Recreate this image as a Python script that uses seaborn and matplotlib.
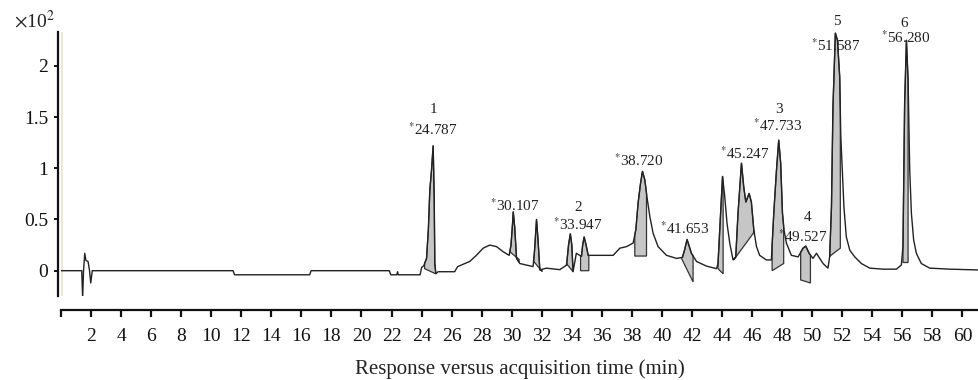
import numpy as np
import pandas as pd
import matplotlib.pyplot as plt
import seaborn as sns

plt.switch_backend('Agg')
sns.set_theme(style="white")
plt.rcParams['font.family'] = ['Liberation Serif', 'DejaVu Serif']
plt.rcParams['mathtext.fontset'] = 'stix'

# Traza del cromatograma (min, respuesta x10^2)
tiempo = [0, 1.38, 1.44, 1.5, 1.58, 1.66, 1.8, 1.9, 1.98, 2.08, 11.45, 11.55, 16.55, 16.65,
          21.85, 21.95, 22.35, 22.4, 22.45, 23.9, 24.0, 24.15, 24.33, 24.45, 24.55, 24.66,
          24.77, 24.84, 24.88, 24.95, 25.1, 26.2, 26.4, 27.2, 27.65, 28.1, 28.54, 28.99,
          29.43, 29.83, 29.95, 30.05, 30.1, 30.2, 30.32, 30.54, 30.98, 31.42, 31.52, 31.65,
          31.75, 31.87, 32.3, 33.2, 33.65, 33.78, 33.9, 34.0, 34.08, 34.3, 34.64, 34.72,
          34.82, 34.95, 35.09, 35.86, 36.75, 37.2, 37.64, 38.08, 38.26, 38.41, 38.57, 38.7,
          38.86, 39.0, 39.19, 39.41, 39.74, 40.3, 40.97, 41.36, 41.5, 41.67, 41.96, 42.3,
          42.96, 43.63, 43.73, 43.9, 44.03, 44.18, 44.33, 44.51, 44.73, 44.91, 45.06, 45.29,
          45.44, 45.58, 45.8, 45.95, 46.11, 46.29, 46.5, 46.95, 47.28, 47.44, 47.62, 47.77,
          47.9, 48.02, 48.12, 48.28, 48.61, 49.06, 49.39, 49.57, 49.79, 50.05, 50.28, 50.5,
          50.72, 51.05, 51.16, 51.28, 51.38, 51.54, 51.68, 51.83, 51.9, 52.0, 52.11, 52.27,
          52.5, 52.83, 53.27, 53.83, 54.71, 55.6, 55.93, 56.04, 56.15, 56.27, 56.38, 56.49,
          56.6, 56.75, 56.93, 57.26, 57.82, 59.15, 61.1]
respuesta = [0, 0, -0.27, 0.0, 0.17, 0.1, 0.09, 0.0, -0.12, 0.0, 0.0, -0.04, -0.04, 0.0,
             0.0, -0.04, -0.04, -0.01, -0.04, -0.04, 0.03, 0.05, 0.12, 0.40, 0.79, 0.98,
             1.22, 0.72, 0.07, -0.03, -0.01, -0.01, 0.04, 0.09, 0.15, 0.22, 0.25, 0.235,
             0.185, 0.15, 0.25, 0.45, 0.575, 0.42, 0.12, 0.07, 0.055, 0.04, 0.2, 0.50,
             0.3, 0.007, 0.025, 0.01, 0.055, 0.25, 0.36, 0.25, -0.01, 0.17, 0.14, 0.25,
             0.33, 0.25, 0.15, 0.15, 0.15, 0.22, 0.235, 0.27, 0.40, 0.66, 0.85, 0.97,
             0.885, 0.72, 0.53, 0.365, 0.235, 0.15, 0.12, 0.13, 0.2, 0.305, 0.17, 0.09,
             0.045, 0.02, 0.07, 0.56, 0.92, 0.72, 0.46, 0.27, 0.105, 0.135, 0.56, 1.05,
             0.82, 0.67, 0.755, 0.67, 0.40, 0.235, 0.15, 0.105, 0.105, 0.56, 0.98, 1.275,
             1.05, 0.56, 0.40, 0.27, 0.15, 0.135, 0.22, 0.24, 0.17, 0.12, 0.17, 0.12,
             0.07, 0.025, 0.135, 0.62, 1.6, 2.32, 2.25, 1.89, 1.32, 0.98, 0.62, 0.33,
             0.2, 0.135, 0.07, 0.025, 0.015, 0.015, 0.055, 0.235, 1.63, 2.25, 1.86, 0.98,
             0.56, 0.30, 0.17, 0.07, 0.025, 0.015, 0.007]

# Picos integrados (inicio, fin, linea base)
pico_ini = [24.2, 29.87, 31.47, 33.64, 34.58, 38.19, 41.3, 43.73, 44.8, 47.33, 49.23, 51.16, 56.04]
pico_fin = [24.93, 30.49, 32.02, 34.08, 35.13, 38.97, 42.07, 44.07, 46.15, 48.1, 49.88, 51.87, 56.38]
base_ini = [0.02, 0.185, 0.09, 0.07, 0.0, 0.143, 0.12, 0.02, 0.11, 0.0, -0.09, 0.14, 0.08]
base_fin = [-0.03, 0.11, -0.01, -0.01, 0.0, 0.143, -0.11, -0.03, 0.38, 0.07, -0.12, 0.22, 0.08]

# Etiquetas de tiempo de retencion
rt_texto = ["24.787", "30.107", "33.947", "38.720", "41.653", "45.247", "47.733", "49.527", "51.587", "56.280"]
rt_x = [24.72, 30.19, 34.39, 38.44, 41.5, 45.49, 47.7, 49.4, 51.58, 56.2]
rt_y = [1.38, 0.63, 0.45, 1.073, 0.414, 1.145, 1.42, 0.33, 2.20, 2.27]
num_texto = ["1", "2", "3", "4", "5", "6"]
num_x = [24.77, 34.42, 47.79, 49.72, 51.65, 56.15]
num_y = [1.57, 0.62, 1.57, 0.52, 2.43, 2.41]

df = pd.DataFrame({"t": tiempo, "r": respuesta})

fig = plt.figure(figsize=(9.79, 3.8), dpi=100)
ax = fig.add_axes([61 / 979, 84 / 380, 918 / 979, 264 / 380])

ax.axvline(0, color="#ece6d2", lw=2, zorder=0)

t_arr = np.array(tiempo)
r_arr = np.array(respuesta)
for s, e, b0, b1 in zip(pico_ini, pico_fin, base_ini, base_fin):
    dentro = (t_arr > s) & (t_arr < e)
    xs = np.concatenate([[s], t_arr[dentro], [e, e, s]])
    ys = np.concatenate([[np.interp(s, t_arr, r_arr)], r_arr[dentro],
                         [np.interp(e, t_arr, r_arr), b1, b0]])
    ax.fill(xs, ys, facecolor="#c6c6c6", edgecolor="#333333", lw=0.9, zorder=2)

sns.lineplot(data=df, x="t", y="r", sort=False, estimator=None, color="#222222",
             lw=1.0, ax=ax, zorder=3)

for txt, x, y in zip(rt_texto, rt_x, rt_y):
    ax.text(x, y, r"$^{*}$" + txt, ha="center", va="center", fontsize=11, color="#222222")
for txt, x, y in zip(num_texto, num_x, num_y):
    ax.text(x, y, txt, ha="center", va="center", fontsize=11, color="#222222")

ax.set_xlim(0, 61.1)
ax.set_ylim(-0.247, 2.33)
ax.set_xticks(np.arange(0, 61, 2))
ax.set_xticklabels([""] + [str(v) for v in range(2, 61, 2)])
ax.set_yticks([0, 0.5, 1, 1.5, 2])
ax.set_yticklabels(["0", "0.5", "1", "1.5", "2"])

for side in ["top", "right"]:
    ax.spines[side].set_visible(False)
ax.spines["left"].set_position(("outward", 2))
ax.spines["bottom"].set_position(("outward", 10))
for side in ["left", "bottom"]:
    ax.spines[side].set_color("#111111")
    ax.spines[side].set_linewidth(1.6)

ax.tick_params(axis="x", direction="out", length=5, width=1.6, pad=8,
               labelsize=14, colors="#111111", bottom=True)
ax.tick_params(axis="y", direction="out", length=3, width=1.4, pad=4,
               labelsize=14, colors="#111111", left=True)
ax.set_xlabel("Response versus acquisition time (min)", fontsize=15, color="#222222", labelpad=10)
ax.set_ylabel("")
ax.grid(False)

fig.text(14 / 979, 1 - 21 / 380, r"$\times$10$^{2}$", ha="left", va="center",
         fontsize=14, color="#222222")

fig.savefig("out.png", dpi=100)
plt.close(fig)
